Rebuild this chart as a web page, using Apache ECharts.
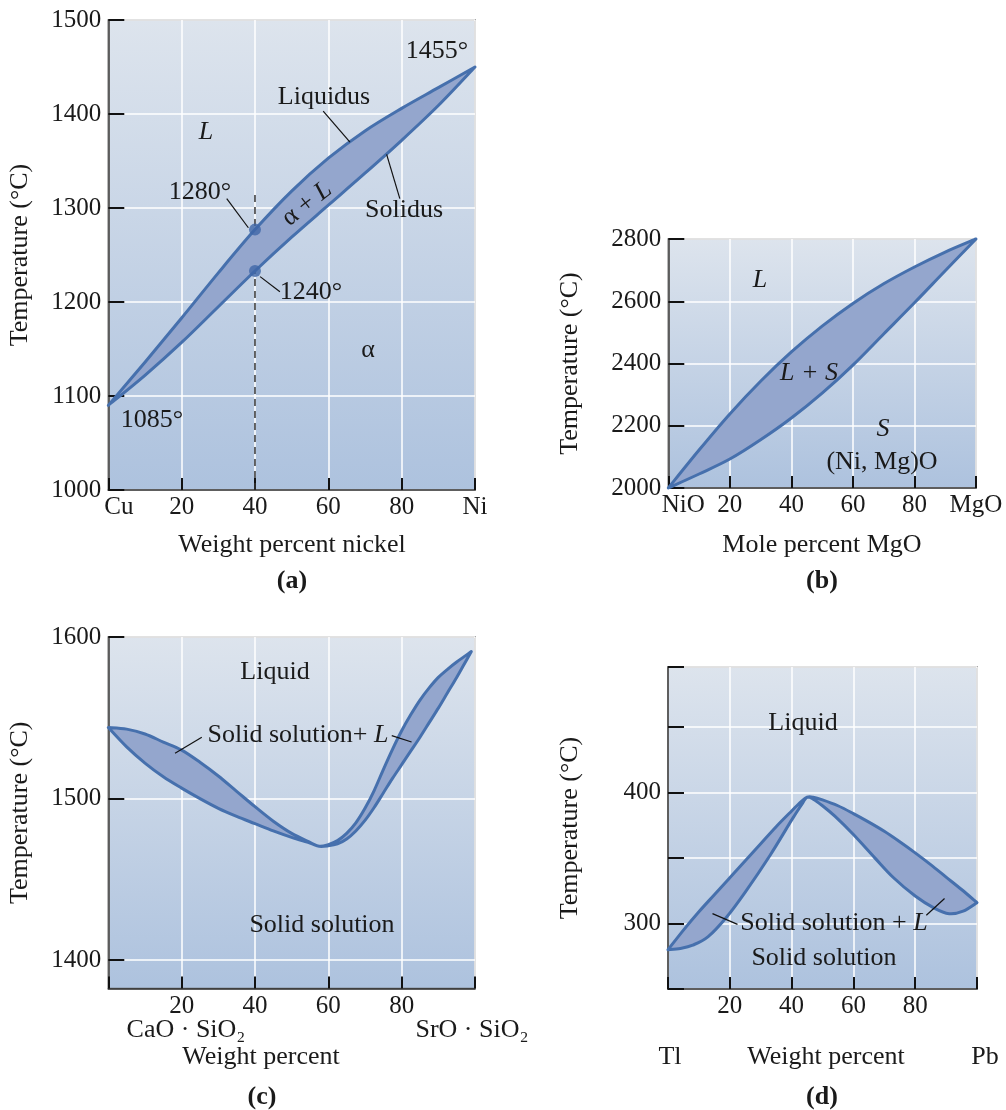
<!DOCTYPE html>
<html><head><meta charset="utf-8">
<script src="https://cdn.jsdelivr.net/npm/echarts@6/dist/echarts.min.js"></script>
<style>html,body{margin:0;padding:0;background:#fff}#c{width:1006px;height:1110px}</style>
</head><body><div id="c"></div><script>
// ---------- DATA ----------
// (a) Cu–Ni, weight percent nickel vs temperature
const aLiquidus = [[0,1090],[10,1136],[20,1183],[30,1231],[40,1277],[50,1318],[60,1353],[70,1382],[80,1406],[90,1428],[100,1450]];
const aSolidus  = [[0,1090],[10,1122],[20,1157],[30,1195],[40,1233],[50,1269],[60,1303],[70,1337],[80,1372],[90,1409],[100,1450]];
const aTieLine  = [[40,1000],[40,1315]];
const aTiePoints = [[40,1277],[40,1233]];
const aLeaderLiquidus = [[58.6,1403],[65.9,1370]];
const aLeaderSolidus  = [[79.5,1310],[75.9,1357]];
const aLeader1280 = [[32.3,1310],[38.2,1279]];
const aLeader1240 = [[41.4,1227],[46.8,1211]];
const aXTicks = {0:'Cu',100:'Ni'};

// (b) NiO–MgO, mole percent MgO
const bLiquidus = [[0,2000],[10,2122],[20,2238],[30,2343],[40,2437],[50,2520],[60,2593],[70,2656],[80,2710],[90,2758],[100,2800]];
const bSolidus  = [[0,2000],[10,2045],[20,2093],[30,2155],[40,2225],[50,2305],[60,2395],[70,2495],[80,2595],[90,2698],[100,2800]];
const bXTicks = {0:'NiO',100:'MgO'};

// (c) CaO·SiO2 – SrO·SiO2
const cLiquidus = [[0,1544],[5,1543],[10,1540],[15,1535],[20,1530],[25,1522.5],[30,1514],[35,1504.5],[40,1495],[45,1486],[50,1478.5],[55,1473],[57.5,1470.5],
                   [60,1471.5],[62.5,1474],[65,1478.5],[67.5,1485],[70,1494],[72.5,1505],[75,1518],[77.5,1530.5],[80,1542],[82.5,1552],[85,1561],[87.5,1568.5],[90,1575],[92.5,1580],[95,1584.5],[99,1591]];
const cSolidus  = [[0,1544],[5,1532],[10,1522],[15,1513.5],[20,1506.5],[25,1500],[30,1494],[35,1489],[40,1484.5],[45,1480],[50,1476],[55,1472.5],[57.5,1470.5],
                   [60,1470.8],[62.5,1472],[65,1475],[67.5,1480],[70,1486.5],[72.5,1494.5],[75,1503.5],[77.5,1512.5],[80,1521],[82.5,1529.5],[85,1538],[87.5,1547],[90,1556],[92.5,1565.5],[95,1575],[97,1583],[99,1591]];
const cLeaderLeft  = [[25.5,1538],[18.2,1528]];
const cLeaderRight = [[77.3,1539],[82.7,1535]];
const cYTicks = [1400,1500,1600];

// (d) Tl–Pb
const dLiquidus = [[0,280],[5,295],[10,309],[15,322],[20,335],[25,348],[30,361],[35,374],[40,386],[43,393],[45,396.5],[47,396.5],[50,394.5],[55,390],[60,384],[65,377.5],[70,370.5],[75,362.5],[80,354],[85,345],[90,335.5],[95,326],[100,316]];
const dSolidus  = [[0,280],[4,281],[8,283.5],[13,290],[19,305],[25,324],[33,352],[40,379],[43,390],[45,396.5],[47,395],[50,390],[54,382],[60,368],[67,350],[73,335],[80,321],[86,312],[91,307.5],[95.5,309.5],[100,316]];
const dLeaderLeft  = [[14.4,307.6],[22.5,299.4]];
const dLeaderRight = [[83.6,306.3],[89.5,319.1]];
const dYLabels = [300,400];

// ---------- STYLE ----------
const SERIF = '"Liberation Serif","Times New Roman",serif';
const LINE = '#4670ad';
const FILL = '#94a6cd';
const TXT = '#1a1a1a';
const FS = 26;
const BG = {type:'linear',x:0,y:0,x2:0,y2:1,colorStops:[{offset:0,color:'#dde4ed'},{offset:1,color:'#adc2de'}]};

function gridOpt(l,t,w,h){
  return {left:l,top:t,width:w,height:h,show:true,backgroundColor:BG,borderColor:'#666',borderWidth:1.5,containLabel:false,outerBoundsMode:'none'};
}
function xAx(gi, fmt, rich){
  return {gridIndex:gi,type:'value',min:0,max:100,interval:20,
    axisLine:{show:true,onZero:false,lineStyle:{color:'#333',width:1.5}},
    axisTick:{show:true,inside:true,length:12,lineStyle:{color:'#111',width:2}},
    axisLabel:{show:true,margin:5,fontFamily:SERIF,fontSize:25,color:TXT,formatter:fmt,rich:rich||{},showMinLabel:true,showMaxLabel:true,hideOverlap:false},
    splitLine:{show:true,lineStyle:{color:'#ffffff',width:1.5}}};
}
function yAx(gi,min,max,interval,gap,extra){
  const o = {gridIndex:gi,type:'value',min:min,max:max,
    axisLine:{show:true,onZero:false,lineStyle:{color:'#333',width:1.5}},
    axisTick:{show:true,inside:true,length:16,lineStyle:{color:'#111',width:2}},
    axisLabel:{show:true,margin:7,fontFamily:SERIF,fontSize:25,color:TXT,showMinLabel:true,showMaxLabel:true,hideOverlap:false,
      formatter:v => String(v)},
    splitLine:{show:true,lineStyle:{color:'#ffffff',width:1.5}},
    name:'Temperature (°C)',nameLocation:'middle',nameGap:gap,nameRotate:90,
    nameTextStyle:{fontFamily:SERIF,fontSize:FS,color:TXT}};
  if (interval != null) o.interval = interval;
  if (extra) { for (const k in extra) Object.assign(o[k], extra[k]); }
  return o;
}

function smoothPath(pts, move){
  let s = (move?'M':'L') + pts[0][0] + ' ' + pts[0][1];
  const n = pts.length;
  for (let i=0;i<n-1;i++){
    const p0 = pts[Math.max(i-1,0)], p1 = pts[i], p2 = pts[i+1], p3 = pts[Math.min(i+2,n-1)];
    const c1x = p1[0]+(p2[0]-p0[0])/6, c1y = p1[1]+(p2[1]-p0[1])/6;
    const c2x = p2[0]-(p3[0]-p1[0])/6, c2y = p2[1]-(p3[1]-p1[1])/6;
    s += ' C' + c1x + ' ' + c1y + ' ' + c2x + ' ' + c2y + ' ' + p2[0] + ' ' + p2[1];
  }
  return s;
}
function lens(gi, upper, lower){
  return {type:'custom',xAxisIndex:gi,yAxisIndex:gi,silent:true,clip:false,z:3,
    data:[upper[0]],
    renderItem:function(params, api){
      const up = upper.map(p=>api.coord(p));
      const lo = lower.map(p=>api.coord(p)).reverse();
      const d = smoothPath(up,true) + ' ' + smoothPath(lo,false) + ' Z';
      return {type:'path',shape:{pathData:d},style:{fill:FILL,stroke:LINE,lineWidth:3,lineJoin:'round'}};
    }};
}
function leader(gi, pts){
  return {type:'line',xAxisIndex:gi,yAxisIndex:gi,data:pts,symbol:'none',silent:true,z:4,
    lineStyle:{color:'#111',width:1.2},animation:false};
}

const series = [
  lens(0,aLiquidus,aSolidus),
  lens(1,bLiquidus,bSolidus),
  lens(2,cLiquidus,cSolidus),
  lens(3,dLiquidus,dSolidus),
  {type:'line',xAxisIndex:0,yAxisIndex:0,data:aTieLine,symbol:'none',silent:true,z:2,
    lineStyle:{color:'#333',width:1.5,type:[7,5]}},
  {type:'scatter',xAxisIndex:0,yAxisIndex:0,data:aTiePoints,symbol:'circle',symbolSize:12,silent:true,z:5,
    itemStyle:{color:'#3e67a8'}},
  leader(0,aLeaderLiquidus), leader(0,aLeaderSolidus), leader(0,aLeader1280), leader(0,aLeader1240),
  leader(2,cLeaderLeft), leader(2,cLeaderRight),
  leader(3,dLeaderLeft), leader(3,dLeaderRight)
];

function txt(x,y,text,extra){
  const st = Object.assign({text:text,fontFamily:SERIF,fontSize:FS,fill:TXT,align:'center',verticalAlign:'middle'}, extra||{});
  return {type:'text',x:x,y:y,silent:true,z:100,style:st};
}
const IT = {fontFamily:SERIF,fontSize:FS,fontStyle:'italic',fill:TXT};

const graphics = [
  // (a)
  txt(437,51,'1455°'),
  txt(324,97,'Liquidus'),
  txt(206,132,'{i|L}',{rich:{i:IT}}),
  Object.assign(txt(307,204,'α + {i|L}',{rich:{i:IT}}),{rotation:38*Math.PI/180}),
  txt(404,210,'Solidus'),
  txt(200,192,'1280°'),
  txt(311,292,'1240°'),
  txt(368,350,'α'),
  txt(152,420,'1085°'),
  txt(292,545,'Weight percent nickel'),
  txt(292,581,'(a)',{fontWeight:'bold'}),
  // (b)
  txt(760,280,'{i|L}',{rich:{i:IT}}),
  txt(809,373,'{i|L + S}',{rich:{i:IT}}),
  txt(883,429,'{i|S}',{rich:{i:IT}}),
  txt(882,462,'(Ni, Mg)O'),
  txt(822,545,'Mole percent MgO'),
  txt(822,581,'(b)',{fontWeight:'bold'}),
  // (c)
  txt(275,672,'Liquid'),
  txt(298,735,'Solid solution+ {i|L}',{rich:{i:IT}}),
  txt(322,925,'Solid solution'),
  txt(186,1030,'CaO · SiO₂'),
  txt(472,1030,'SrO · SiO₂'),
  txt(261,1057,'Weight percent'),
  txt(262,1097,'(c)',{fontWeight:'bold'}),
  // (d)
  txt(803,723,'Liquid'),
  txt(834,923,'Solid solution + {i|L}',{rich:{i:IT}}),
  txt(824,958,'Solid solution'),
  txt(670,1057,'Tl'),
  txt(985,1057,'Pb'),
  txt(826,1057,'Weight percent'),
  txt(822,1097,'(d)',{fontWeight:'bold'})
];

const padRich = {p:{padding:[0,0,0,21],fontFamily:SERIF,fontSize:25,color:TXT},
                 q:{padding:[0,0,0,30],fontFamily:SERIF,fontSize:25,color:TXT}};

const option = {
  animation:false,
  backgroundColor:'#ffffff',
  grid:[gridOpt(108.3,20,366.7,470), gridOpt(668.3,239,307.7,249), gridOpt(108.3,637,366.7,351.5), gridOpt(668,667,309,322)],
  xAxis:[
    xAx(0, v => v===0 ? '{p|'+aXTicks[0]+'}' : (aXTicks[v]||String(v)), padRich),
    xAx(1, v => v===0 ? '{q|'+bXTicks[0]+'}' : (bXTicks[v]||String(v)), padRich),
    xAx(2, v => (v===0||v===100) ? '' : String(v)),
    xAx(3, v => (v===0||v===100) ? '' : String(v))
  ],
  yAxis:[
    yAx(0,1000,1500,100,75),
    yAx(1,2000,2800,200,85),
    yAx(2,1382.5,1600,null,75,{axisTick:{customValues:cYTicks},axisLabel:{customValues:cYTicks}}),
    yAx(3,250,496,50,85,{axisLabel:{formatter:v => dYLabels.indexOf(v)>=0 ? String(v) : ''}})
  ],
  series:series,
  graphic:graphics
};
const chart = echarts.init(document.getElementById('c'),null,{renderer:'canvas'});
chart.setOption(option);
</script></body></html>
